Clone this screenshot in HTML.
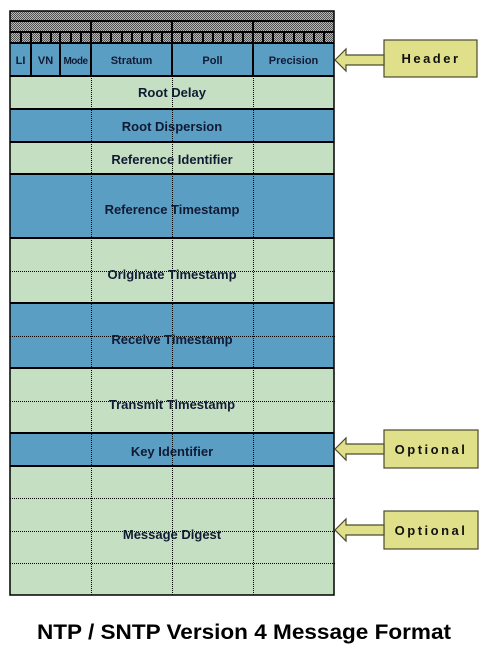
<!DOCTYPE html>
<html><head><meta charset="utf-8"><style>
html,body{margin:0;padding:0;background:#fff;width:488px;height:661px;overflow:hidden}
svg{display:block}
text{font-family:"Liberation Sans",Arial,sans-serif;font-weight:bold}
</style></head><body>
<svg width="488" height="661" viewBox="0 0 488 661" xmlns="http://www.w3.org/2000/svg">
<defs>
<pattern id="hatch" width="2" height="2" patternUnits="userSpaceOnUse">
<rect width="2" height="2" fill="#b8b8b8"/><rect width="1" height="1" fill="#505050"/><rect x="1" y="1" width="1" height="1" fill="#505050"/>
</pattern>
</defs>
<rect x="10" y="11" width="324" height="32" fill="url(#hatch)"/>
<g stroke="#000" stroke-width="2" fill="none">
<line x1="10" y1="21" x2="334" y2="21"/>
<line x1="10" y1="32" x2="334" y2="32"/>
<line x1="91" y1="21" x2="91" y2="32"/>
<line x1="172" y1="21" x2="172" y2="32"/>
<line x1="253" y1="21" x2="253" y2="32"/>
</g>
<rect x="10" y="43" width="324" height="33" fill="#5b9ec4"/>
<rect x="10" y="76" width="324" height="33" fill="#c5dfc2"/>
<rect x="10" y="109" width="324" height="33" fill="#5b9ec4"/>
<rect x="10" y="142" width="324" height="32" fill="#c5dfc2"/>
<rect x="10" y="174" width="324" height="64" fill="#5b9ec4"/>
<rect x="10" y="238" width="324" height="65" fill="#c5dfc2"/>
<rect x="10" y="303" width="324" height="65" fill="#5b9ec4"/>
<rect x="10" y="368" width="324" height="65" fill="#c5dfc2"/>
<rect x="10" y="433" width="324" height="33" fill="#5b9ec4"/>
<rect x="10" y="466" width="324" height="129" fill="#c5dfc2"/>
<g stroke="#000" stroke-width="1" stroke-dasharray="1,1" shape-rendering="crispEdges">
<line x1="91.5" y1="76" x2="91.5" y2="595"/>
<line x1="172.5" y1="76" x2="172.5" y2="595"/>
<line x1="253.5" y1="76" x2="253.5" y2="595"/>
<line x1="10" y1="271.5" x2="336" y2="271.5"/>
<line x1="10" y1="336.5" x2="336" y2="336.5"/>
<line x1="10" y1="401.5" x2="336" y2="401.5"/>
<line x1="10" y1="498.5" x2="336" y2="498.5"/>
<line x1="10" y1="531.5" x2="336" y2="531.5"/>
<line x1="10" y1="563.5" x2="336" y2="563.5"/>
</g>
<g stroke="#000" stroke-width="2" fill="none">
<line x1="31" y1="32" x2="31" y2="76"/>
<line x1="60" y1="32" x2="60" y2="76"/>
<line x1="91" y1="32" x2="91" y2="76"/>
<line x1="172" y1="32" x2="172" y2="76"/>
<line x1="253" y1="32" x2="253" y2="76"/>
<line x1="10" y1="43" x2="334" y2="43"/>
<line x1="10" y1="76" x2="334" y2="76"/>
<line x1="10" y1="109" x2="334" y2="109"/>
<line x1="10" y1="142" x2="334" y2="142"/>
<line x1="10" y1="174" x2="334" y2="174"/>
<line x1="10" y1="238" x2="334" y2="238"/>
<line x1="10" y1="303" x2="334" y2="303"/>
<line x1="10" y1="368" x2="334" y2="368"/>
<line x1="10" y1="433" x2="334" y2="433"/>
<line x1="10" y1="466" x2="334" y2="466"/>
<rect x="10" y="11" width="324" height="584" stroke-width="1.5"/>
</g>
<g stroke="#000" stroke-width="2">
<line x1="21" y1="32" x2="21" y2="43"/><line x1="41" y1="32" x2="41" y2="43"/><line x1="51" y1="32" x2="51" y2="43"/>
<line x1="71" y1="32" x2="71" y2="43"/><line x1="81" y1="32" x2="81" y2="43"/><line x1="101" y1="32" x2="101" y2="43"/>
<line x1="111" y1="32" x2="111" y2="43"/><line x1="122" y1="32" x2="122" y2="43"/><line x1="132" y1="32" x2="132" y2="43"/>
<line x1="142" y1="32" x2="142" y2="43"/><line x1="152" y1="32" x2="152" y2="43"/><line x1="162" y1="32" x2="162" y2="43"/>
<line x1="182" y1="32" x2="182" y2="43"/><line x1="192" y1="32" x2="192" y2="43"/><line x1="203" y1="32" x2="203" y2="43"/>
<line x1="213" y1="32" x2="213" y2="43"/><line x1="223" y1="32" x2="223" y2="43"/><line x1="233" y1="32" x2="233" y2="43"/>
<line x1="243" y1="32" x2="243" y2="43"/><line x1="263" y1="32" x2="263" y2="43"/><line x1="273" y1="32" x2="273" y2="43"/>
<line x1="284" y1="32" x2="284" y2="43"/><line x1="294" y1="32" x2="294" y2="43"/><line x1="304" y1="32" x2="304" y2="43"/>
<line x1="314" y1="32" x2="314" y2="43"/><line x1="324" y1="32" x2="324" y2="43"/>
</g>
<g font-size="11" fill="#111a33" text-anchor="middle">
<text x="20.5" y="64">LI</text>
<text x="45.5" y="64">VN</text>
<text x="75.5" y="64" font-size="10" letter-spacing="-0.5">Mode</text>
<text x="131.5" y="64">Stratum</text>
<text x="212.5" y="64">Poll</text>
<text x="293.5" y="64">Precision</text>
</g>
<g font-size="13" fill="#111a33" text-anchor="middle">
<text x="172" y="97">Root Delay</text>
<text x="172" y="131">Root Dispersion</text>
<text x="172" y="164">Reference Identifier</text>
<text x="172" y="214">Reference Timestamp</text>
<text x="172" y="279">Originate Timestamp</text>
<text x="172" y="344">Receive Timestamp</text>
<text x="172" y="409">Transmit Timestamp</text>
<text x="172" y="456">Key Identifier</text>
<text x="172" y="539">Message Digest</text>
</g>
<g fill="#e0e08a" stroke="#4a4a30" stroke-width="1.2">
<rect x="384" y="40" width="93" height="37"/>
<rect x="384" y="430" width="94" height="38"/>
<rect x="384" y="511" width="94" height="38"/>
<path d="M335,60 L346,49 L346,55 L384,55 L384,65 L346,65 L346,71 Z"/>
<path d="M335,449 L346,438 L346,444 L384,444 L384,454 L346,454 L346,460 Z"/>
<path d="M335,530 L346,519 L346,525 L384,525 L384,535 L346,535 L346,541 Z"/>
</g>
<g font-size="13" fill="#111" text-anchor="middle" letter-spacing="2.5">
<text x="431" y="63">Header</text>
<text x="431" y="454">Optional</text>
<text x="431" y="535">Optional</text>
</g>
<text x="37" y="639" font-size="21" textLength="414" lengthAdjust="spacingAndGlyphs" fill="#000">NTP / SNTP Version 4 Message Format</text>
</svg>
</body></html>
